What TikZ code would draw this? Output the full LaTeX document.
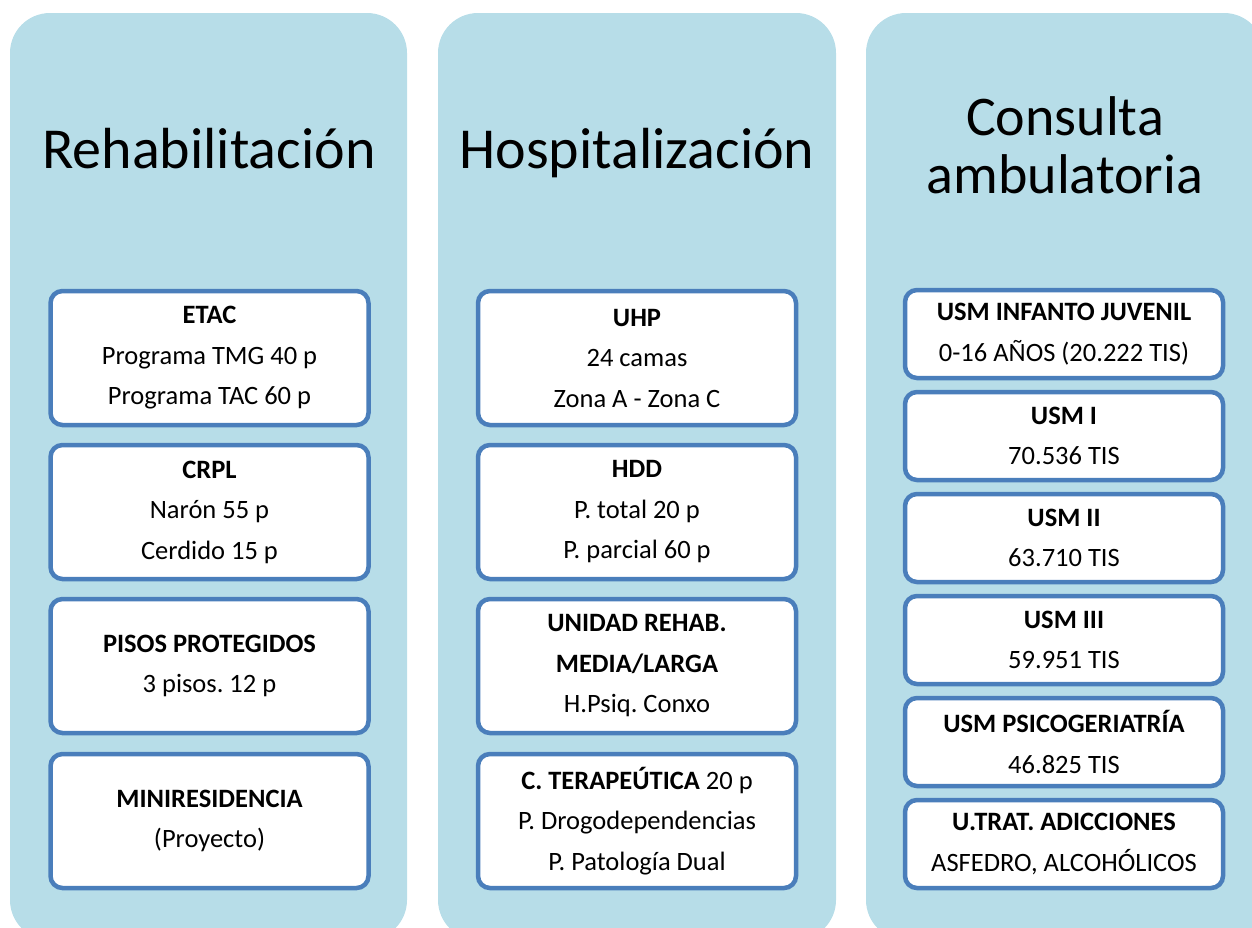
\documentclass[tikz,border=0pt]{standalone}
\usepackage{fontspec}
\setmainfont{Carlito}
\usepackage{tikz}
\frenchspacing
\definecolor{panelblue}{HTML}{B7DDE8}
\definecolor{boxedge}{HTML}{4A7EBB}
\tikzstyle{panel} = [fill=panelblue, rounded corners=40pt]
\tikzstyle{itembox} = [draw=boxedge, fill=white, line width=4.5pt, rounded corners=12pt, minimum width=318pt, align=center, inner sep=0, font=\fontsize{26.5}{40.5}\selectfont]
\tikzstyle{bigbox} = [itembox, minimum height=134pt]
\tikzstyle{smallbox} = [itembox, minimum height=88pt]
\tikzstyle{heading} = [anchor=base, font=\fontsize{58}{58}\selectfont]
\begin{document}
\begin{tikzpicture}[x=1pt, y=-1pt]
      \useasboundingbox (0, 0) rectangle (1252, 927);
      \clip (0, 0) rectangle (1252, 927);
      \fill[panel] (10, 13) rectangle (407, 940);
      \fill[panel] (438, 13) rectangle (836, 940);
      \fill[panel] (866, 13) rectangle (1264, 940);

      \node[heading] (rehabtitle) at (209, 168) {Rehabilitación};
      \node[heading] (hosptitle) at (637, 168) {Hospitalización};
      \node[heading, font=\fontsize{56}{56}\selectfont] (constitle) at (1065, 135) {Consulta};
      \node[heading, font=\fontsize{56}{56}\selectfont] (ambtitle) at (1065, 193) {ambulatoria};

      \node[bigbox] (etac) at (209.5, 358) {\textbf{ETAC}\\Programa TMG 40 p\\Programa TAC 60 p};
      \node[bigbox] (crpl) at (209.5, 512) {\textbf{CRPL}\\Narón 55 p\\Cerdido 15 p};
      \node[bigbox] (pisos) at (209.5, 666) {\textbf{PISOS PROTEGIDOS}\\3 pisos. 12 p};
      \node[bigbox] (minires) at (209.5, 821) {\textbf{MINIRESIDENCIA}\\(Proyecto)};

      \node[bigbox] (uhp) at (637, 358) {\textbf{UHP}\\24 camas\\Zona A - Zona C};
      \node[bigbox] (hdd) at (637, 512) {\textbf{HDD}\\P. total 20 p\\P. parcial 60 p};
      \node[bigbox] (mediolarga) at (637, 666) {\textbf{UNIDAD REHAB.}\\\textbf{MEDIA/LARGA}\\H.Psiq. Conxo};
      \node[bigbox] (cterap) at (637, 821) {\textbf{C. TERAPEÚTICA} 20 p\\P. Drogodependencias\\P. Patología Dual};

      \node[smallbox] (usmij) at (1064, 334) {\textbf{USM INFANTO JUVENIL}\\0-16 AÑOS (20.222 TIS)};
      \node[smallbox] (usm1) at (1064, 436) {\textbf{USM I}\\70.536 TIS};
      \node[smallbox] (usm2) at (1064, 538) {\textbf{USM II}\\63.710 TIS};
      \node[smallbox] (usm3) at (1064, 640) {\textbf{USM III}\\59.951 TIS};
      \node[smallbox] (usmpg) at (1064, 742) {\textbf{USM PSICOGERIATRÍA}\\46.825 TIS};
      \node[smallbox] (utrat) at (1064, 844) {\textbf{U.TRAT. ADICCIONES}\\ASFEDRO, ALCOHÓLICOS};
    \end{tikzpicture}
\end{document}
